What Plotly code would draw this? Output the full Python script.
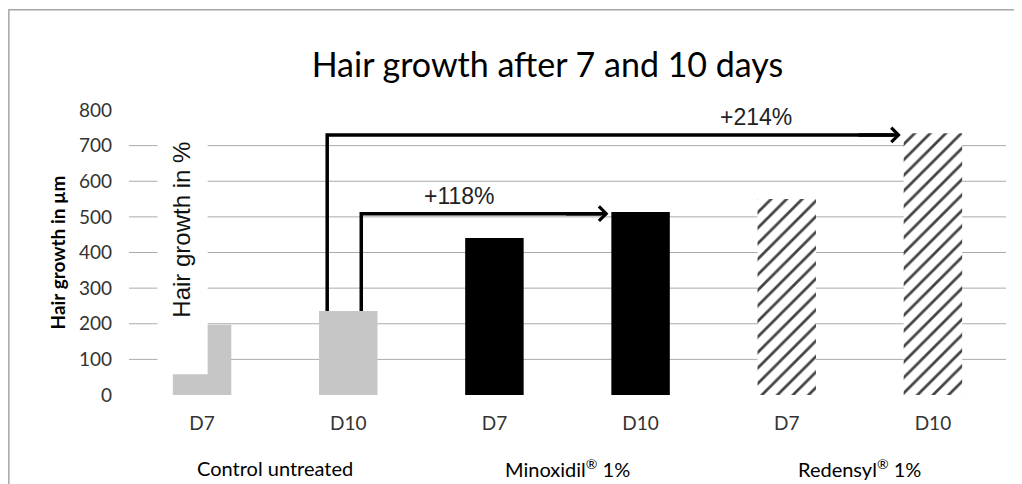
import plotly.graph_objects as go

# ---- data ----
tick_labels = ["D7", "D10", "D7", "D10", "D7", "D10"]
groups = ["Control untreated", "Minoxidil<sup>®</sup> 1%", "Redensyl<sup>®</sup> 1%"]
values = [197, 236, 441, 514, 550, 735]
bar_colors = ["#c6c6c6", "#c6c6c6", "#000000", "#000000", "#ffffff", "#ffffff"]
bar_patterns = ["", "", "", "", "/", "/"]
y_ticks = [0, 100, 200, 300, 400, 500, 600, 700, 800]
increase_labels = ["+118%", "+214%"]
ref_index = 1          # Control D10
target_index = [3, 5]  # Minoxidil D10, Redensyl D10

x_idx = list(range(len(values)))
BAR_W = 0.40

fig = go.Figure()
fig.add_trace(go.Bar(
    x=x_idx, y=values, width=BAR_W,
    marker=dict(color=bar_colors, line=dict(width=0),
                pattern=dict(shape=bar_patterns, fgcolor="#000000", bgcolor="#ffffff",
                             fgopacity=1, size=11, solidity=0.25)),
    showlegend=False, hoverinfo="skip",
))

shapes = []
# gridlines (not at 0 nor at the top tick)
for v in y_ticks[1:-1]:
    shapes.append(dict(type="line", xref="paper", yref="y", x0=0, x1=1, y0=v, y1=v,
                       line=dict(color="#ababab", width=1), layer="below"))

# white box covering part of the first bar, with rotated text
shapes.append(dict(type="rect", xref="x", yref="y", x0=-0.305, x1=0.038, y0=58, y1=790,
                   fillcolor="#ffffff", line=dict(width=0), layer="above"))

# outer frame
shapes.append(dict(type="rect", xref="paper", yref="paper", x0=-0.137, x1=1.05, y0=-0.40, y1=1.352,
                   fillcolor="rgba(0,0,0,0)", line=dict(color="#a6a6a6", width=1.5), layer="below"))

annotations = []
annotations.append(dict(text="Hair growth in %", x=-0.147, y=463, xref="x", yref="y",
                        textangle=-90, showarrow=False,
                        font=dict(family="Liberation Sans", size=24, color="#111111")))

# arrows
vert_offsets = [0.089, -0.144]
label_x = [1.76, 3.79]
for k, ti in enumerate(target_index):
    xv = ref_index + vert_offsets[k]
    tip = ti - BAR_W / 2 - 0.02
    lvl = values[ti] - 5
    fig.add_trace(go.Scatter(
        x=[xv, xv, tip - 0.05], y=[values[ref_index], lvl, lvl], mode="lines",
        line=dict(color="#000000", width=3.5), showlegend=False, hoverinfo="skip"))
    annotations.append(dict(x=tip, y=lvl, ax=tip - 0.3, ay=lvl, xref="x", yref="y",
                            axref="x", ayref="y", text="", showarrow=True,
                            arrowhead=4, arrowsize=0.8, arrowwidth=3.5, arrowcolor="#000000"))
    annotations.append(dict(x=label_x[k], y=lvl, xref="x", yref="y", yanchor="bottom",
                            yshift=3, text=increase_labels[k], showarrow=False,
                            font=dict(family="Liberation Sans", size=23, color="#222222")))

# group labels
for g, name in enumerate(groups):
    annotations.append(dict(x=2 * g + 0.5, y=-0.256, xref="x", yref="paper", yanchor="middle",
                            text=name, showarrow=False,
                            font=dict(family="Lato", size=20, color="#000000")))

fig.update_layout(
    width=1014, height=476,
    margin=dict(l=121, r=16, t=102, b=89),
    paper_bgcolor="#ffffff", plot_bgcolor="#ffffff",
    title=dict(text="Hair growth after 7 and 10 days", x=0.532, xref="container", xanchor="center",
               y=1 - 57 / 476, yref="container", yanchor="middle",
               font=dict(family="Lato", size=34, color="#000000")),
    xaxis=dict(range=[-0.5, 5.5], tickvals=x_idx, ticktext=tick_labels, showgrid=False,
               zeroline=False, showline=False, ticks="", ticklabelstandoff=15, automargin=False,
               tickfont=dict(family="Lato", size=19, color="#333333")),
    yaxis=dict(range=[0, 800], tickvals=y_ticks, showgrid=False, zeroline=False, showline=False,
               ticks="", ticklabelstandoff=16, automargin=False,
               tickfont=dict(family="Lato", size=19, color="#333333"),
               title=dict(text="<b>Hair growth in µm</b>", standoff=8,
                          font=dict(family="Lato", size=19, color="#000000"))),
    shapes=shapes, annotations=annotations,
    bargap=0.6,
)

fig.write_html("out.html")
